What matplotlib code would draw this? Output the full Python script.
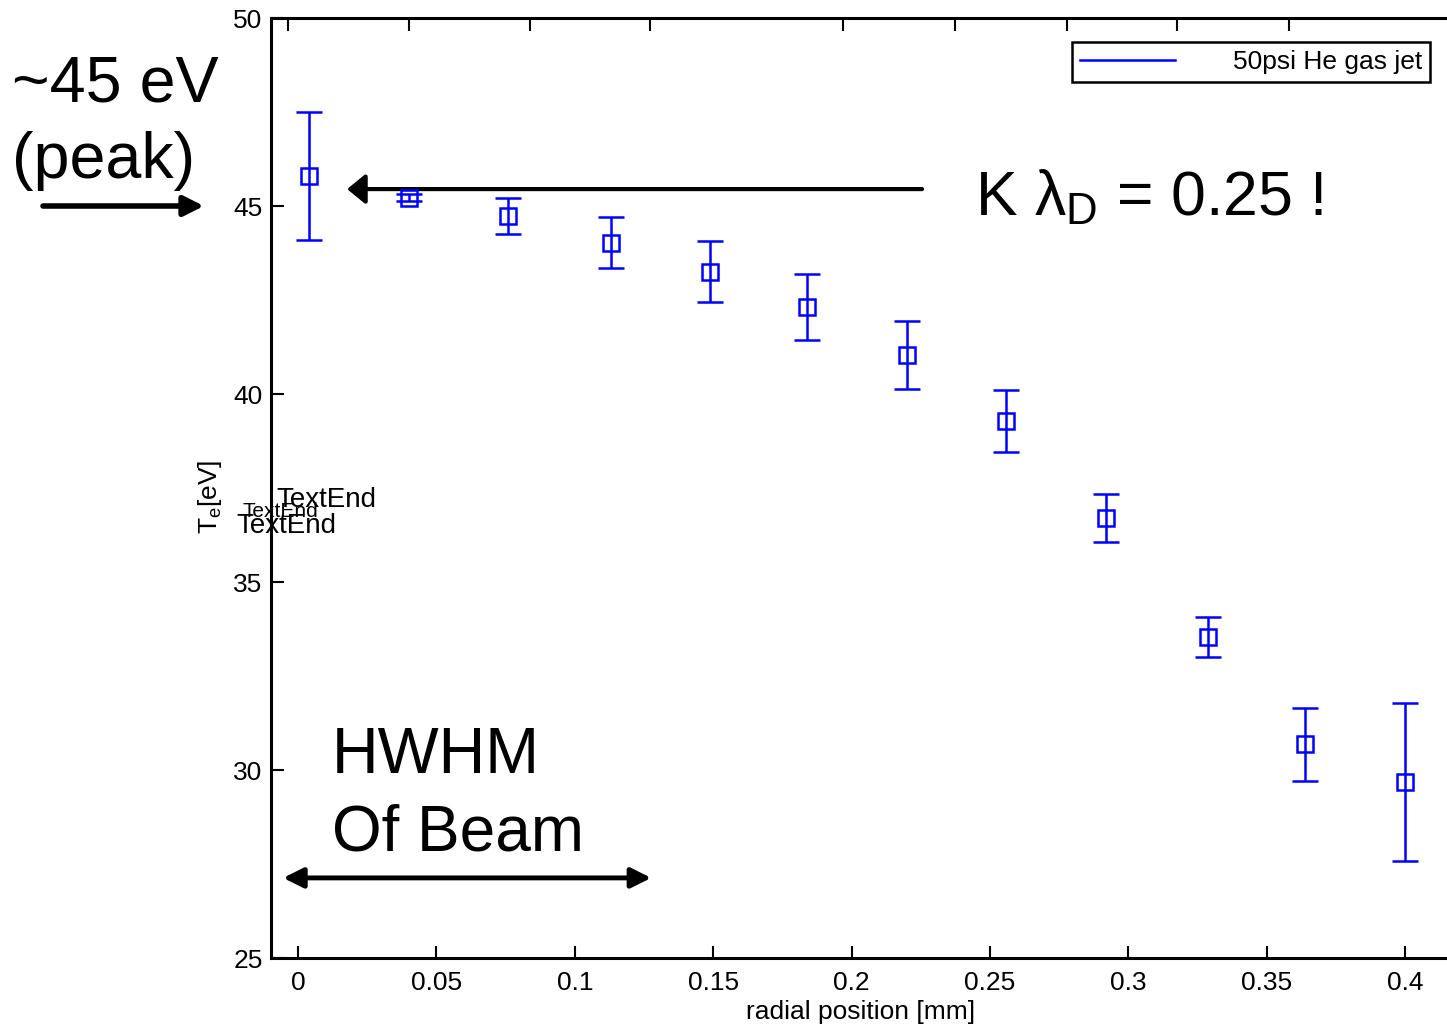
import matplotlib
matplotlib.use("Agg")
import matplotlib.pyplot as plt
from matplotlib.lines import Line2D

plt.rcParams['font.family'] = ['Liberation Sans', 'DejaVu Sans']
plt.rcParams['mathtext.fontset'] = 'custom'
plt.rcParams['mathtext.rm'] = 'Liberation Sans'
plt.rcParams['mathtext.default'] = 'regular'

# radial Te profile, 50psi He gas jet
radius = [0.004, 0.040, 0.076, 0.113, 0.149, 0.184, 0.220, 0.256, 0.292, 0.329, 0.364, 0.400]
te = [45.80, 45.22, 44.73, 44.02, 43.25, 42.31, 41.04, 39.28, 36.70, 33.54, 30.68, 29.68]
te_err = [1.70, 0.10, 0.47, 0.68, 0.81, 0.88, 0.90, 0.83, 0.64, 0.54, 0.96, 2.10]

x_ticks = [0, 0.05, 0.1, 0.15, 0.2, 0.25, 0.3, 0.35, 0.4]
x_ticklabels = ['0', '0.05', '0.1', '0.15', '0.2', '0.25', '0.3', '0.35', '0.4']
y_ticks = [25, 30, 35, 40, 45, 50]
top_ticks = [-0.0036, 0.0401, 0.0838, 0.1272, 0.1969, 0.2374, 0.2779, 0.3176, 0.3581]

W, H = 1447, 1030
fs = 19
fig = plt.figure(figsize=(W / 100, H / 100), dpi=100)
ax = fig.add_axes([271 / W, 1 - 958 / H, (1450 - 271) / W, (958 - 18) / H])

ax.errorbar(radius, te, yerr=te_err, fmt='s', color='#0000ff', mfc='none',
            mec='#0000ff', ms=11, mew=1.8, elinewidth=1.8, capsize=9.5,
            capthick=1.8, zorder=3)

ax.set_xlim(-0.0098, 0.4163)
ax.set_ylim(25, 50)
ax.set_xticks(x_ticks)
ax.set_xticklabels(x_ticklabels)
ax.set_yticks(y_ticks)
ax.tick_params(direction='in', length=9, width=1.5, labelsize=fs)
ax.tick_params(axis='x', pad=9)
ax.tick_params(axis='y', pad=6)
for s in ax.spines.values():
    s.set_linewidth(2.2)

# top axis carries its own unlabeled ticks
top = ax.twiny()
top.set_xlim(ax.get_xlim())
top.set_xticks(top_ticks)
top.tick_params(direction='in', length=9, width=1.5, labeltop=False)
for s in top.spines.values():
    s.set_visible(False)

ax.set_xlabel('radial position [mm]', fontsize=fs, labelpad=4)
fig.text(210 / W, 1 - 497 / H, r'T$_e$[eV]', rotation=90, fontsize=fs,
         ha='center', va='center')

# stray text objects left over in the figure
fig.text(276 / W, 1 - 507 / H, 'TextEnd', fontsize=20)
fig.text(243 / W, 1 - 517 / H, 'TextEnd', fontsize=15)
fig.text(236 / W, 1 - 533 / H, 'TextEnd', fontsize=20)

handle = Line2D([], [], color='#0000ff', lw=1.8)
fig.legend([handle], ['50psi He gas jet'], loc='upper right',
           bbox_to_anchor=(1430 / W, 1 - 42 / H), bbox_transform=fig.transFigure,
           borderaxespad=0, fontsize=fs, handlelength=3.6, handletextpad=2.2,
           borderpad=0.3, fancybox=False, framealpha=1, edgecolor='black')
fig.legends[0].get_frame().set_linewidth(1.8)

# annotations
fig.text(12 / W, 1 - 101 / H, '~45 eV', fontsize=46.5, va='baseline')
fig.text(12 / W, 1 - 178 / H, '(peak)', fontsize=46.5, va='baseline')
fig.patches.append(matplotlib.patches.FancyArrowPatch(
    (43 / W, 1 - 206 / H), (204 / W, 1 - 206 / H), transform=fig.transFigure,
    arrowstyle='-|>,head_length=12,head_width=6', mutation_scale=1,
    lw=4, color='black', shrinkA=0, shrinkB=0))

ax.annotate('', xy=(0.0177, 45.45), xytext=(0.2255, 45.45),
            arrowprops=dict(arrowstyle='-|>,head_length=11,head_width=9',
                            mutation_scale=1, lw=3, color='black',
                            shrinkA=0, shrinkB=0))
ax.text(0.2446, 44.76, r'K λ$_D$ = 0.25 !', fontsize=45, va='baseline')

ax.text(0.0123, 29.92, 'HWHM', fontsize=46.5, va='baseline')
ax.text(0.0123, 27.87, 'Of Beam', fontsize=46, va='baseline')
ax.annotate('', xy=(-0.0054, 27.13), xytext=(0.1276, 27.13), annotation_clip=False,
            arrowprops=dict(arrowstyle='<|-|>,head_length=12,head_width=6',
                            mutation_scale=1, lw=3.5, color='black',
                            shrinkA=0, shrinkB=0))

fig.savefig('out.png', dpi=100)
